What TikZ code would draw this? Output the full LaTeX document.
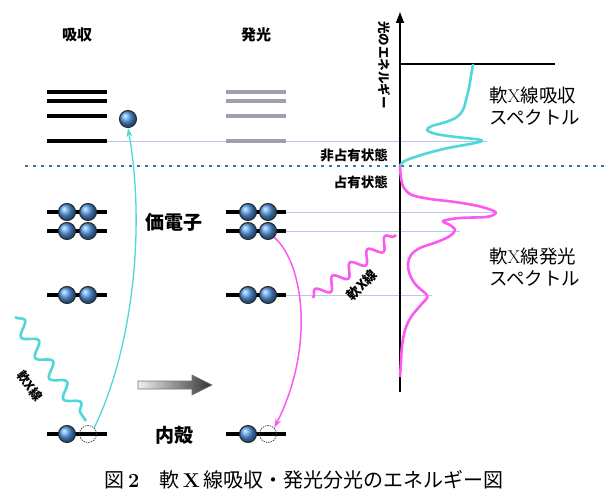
\documentclass[tikz,border=0pt]{standalone}
\usepackage{fontspec}
\newfontfamily\jp{Noto Sans CJK JP}
\usetikzlibrary{arrows.meta,decorations.pathmorphing}
\definecolor{cyanC}{RGB}{80,215,215}
\definecolor{magC}{RGB}{250,90,240}
\definecolor{dotblue}{RGB}{50,120,165}
\definecolor{thinblue}{RGB}{185,200,232}
\definecolor{levgray}{RGB}{160,160,172}
\definecolor{elecblue}{RGB}{80,150,230}
\tikzset{
  level/.style={line width=3.2pt, draw=black},
  glevel/.style={line width=3.2pt, draw=levgray},
  thinl/.style={line width=0.8pt, draw=thinblue},
  dotline/.style={line width=2.4pt, draw=dotblue, dash pattern=on 3pt off 5pt},
  elec/.style={circle, inner sep=0pt, minimum size=17pt, draw=black!85, line width=1pt, ball color=elecblue},
  hole/.style={circle, inner sep=0pt, minimum size=17pt, draw=black!80, line width=0.7pt, dash pattern=on 1.5pt off 1pt},
  lbl/.style={font=\jp\bfseries\fontsize{15}{17}\selectfont, inner sep=0pt},
  small/.style={font=\jp\bfseries\fontsize{13.5}{15}\selectfont, inner sep=0pt},
  big/.style={font=\jp\fontsize{19}{21}\selectfont, inner sep=0pt},
  spec/.style={font=\jp\fontsize{18.5}{21.5}\selectfont, inner sep=0pt, align=left, anchor=west},
  wave/.style={line width=2.6pt, decorate, decoration={snake, segment length=25pt, amplitude=6.5pt}},
}
\begin{document}
\begin{tikzpicture}[x=1pt,y=-1pt]
\useasboundingbox (0,0) rectangle (605,494);
% headings
\node[lbl] (habs) at (77,35) {吸収};
\node[lbl] (hemi) at (256,35) {発光};
% thin guide lines
\draw[thinl] (107,141) -- (487,141);
\draw[thinl] (286,212) -- (497,212);
\draw[thinl] (286,231) -- (460,231);
\draw[thinl] (286,295) -- (432,295);
% unoccupied levels
\foreach \y in {92,101,116,141} {
  \draw[level] (47,\y) -- (107,\y);
  \draw[glevel] (226,\y) -- (286,\y);
}
% dotted Fermi line
\draw[dotline] (25,166) -- (605,166);
% occupied levels
\foreach \y in {212,231,295,434} {
  \draw[level] (47,\y) -- (107,\y);
  \draw[level] (226,\y) -- (286,\y);
}
% electrons absorption side
\node[elec] (eU) at (128,119) {};
\node[elec] (a1) at (67,212) {};
\node[elec] (a2) at (88,212) {};
\node[elec] (a3) at (67,231) {};
\node[elec] (a4) at (88,231) {};
\node[elec] (a5) at (67,295) {};
\node[elec] (a6) at (88,295) {};
\node[elec] (a7) at (67,434) {};
\node[hole] (hA) at (88,434) {};
% electrons emission side
\node[elec] (b1) at (248,212) {};
\node[elec] (b2) at (268,212) {};
\node[elec] (b3) at (248,231) {};
\node[elec] (b4) at (268,231) {};
\node[elec] (b5) at (248,295) {};
\node[elec] (b6) at (268,295) {};
\node[elec] (b7) at (248,434) {};
\node[hole] (hE) at (268,434) {};
% labels
\node[big] (val) at (174,222) {\bfseries 価電子};
\node[big] (core) at (174,435) {\bfseries 内殻};
\node[small, anchor=east] (unocc) at (388,155) {非占有状態};
\node[small, anchor=east] (occ) at (388,182) {占有状態};
% cyan excitation arrow
\draw[cyanC, line width=1.3pt, -{Stealth[length=9pt,width=6pt]}] (hA.north east) .. controls (132,350) and (146,230) .. (eU.south);
% magenta emission arrow
\draw[magC, line width=1.5pt, -{Stealth[length=9pt,width=6pt]}] (b4.south east) .. controls (305,265) and (314,350) .. (hE.north east);
% incident soft X-ray
\coordinate (wA1) at (15,317);
\coordinate (wA2) at (86,421);
\draw[wave, cyanC] (wA1) -- (wA2);
\node[font=\jp\bfseries\fontsize{12.5}{14}\selectfont, rotate=-52, inner sep=0pt] (xin) at (30,386) {軟X線};
% emitted soft X-ray
\coordinate (wE1) at (313,298);
\coordinate (wE2) at (396,235);
\draw[wave, magC, decoration={segment length=22pt, amplitude=6pt}] (wE1) -- (wE2);
\node[font=\jp\bfseries\fontsize{13.5}{15}\selectfont, rotate=44, inner sep=0pt] (xout) at (362,285) {軟X線};
% gradient arrow
\shadedraw[left color=black!6, right color=black!80, draw=black!55, line width=0.6pt]
  (138,381) -- (192,381) -- (192,375) -- (212,385) -- (192,395) -- (192,389) -- (138,389) -- cycle;
% energy axis
\coordinate (axb) at (400,392);
\coordinate (axt) at (400,12);
\draw[line width=1.3pt, -{Triangle[length=11pt,width=8pt]}] (axb) -- (axt);
\coordinate (top1) at (400,64);
\coordinate (top2) at (555,64);
\draw[line width=1.2pt] (top1) -- (top2);
\node[small, font=\jp\bfseries\fontsize{12.5}{14}\selectfont, rotate=-90] (axl) at (384,65) {光のエネルギー};
% spectra
\draw[cyanC, line width=2.6pt, line join=round] plot[smooth, tension=0.55] coordinates {
 (473,64) (471,76) (469,88) (466,100) (463,110) (457,117) (446,122) (432,126) (427,130) (436,134) (456,137) (475,139) (482,141) (470,144) (448,148) (428,153) (412,158) (403,162) (400,166)};
\draw[magC, line width=2.6pt, line join=round] plot[smooth, tension=0.55] coordinates {
 (400,166) (401,178) (404,188) (412,195) (430,199) (455,202) (478,206) (494,211) (495,214) (486,217) (460,218) (443,221) (450,225) (455,230) (450,236) (437,242) (420,248) (411,255) (408,264) (410,275) (416,285) (426,294) (427,298) (420,306) (411,317) (405,330) (402,346) (401,362) (400,377)};
% spectrum labels
\node[spec] (absl) at (489,106) {軟{\rmfamily X}線吸収\\スペクトル};
\node[spec] (emil) at (489,267) {軟{\rmfamily X}線発光\\スペクトル};
% caption
\node[font=\jp\fontsize{20}{22}\selectfont, inner sep=0pt] (cap) at (304,480) {図\,{\rmfamily\bfseries 2}\hspace{1em}軟\,{\rmfamily\bfseries X}\,線吸収・発光分光のエネルギー図};
\end{tikzpicture}
\end{document}
